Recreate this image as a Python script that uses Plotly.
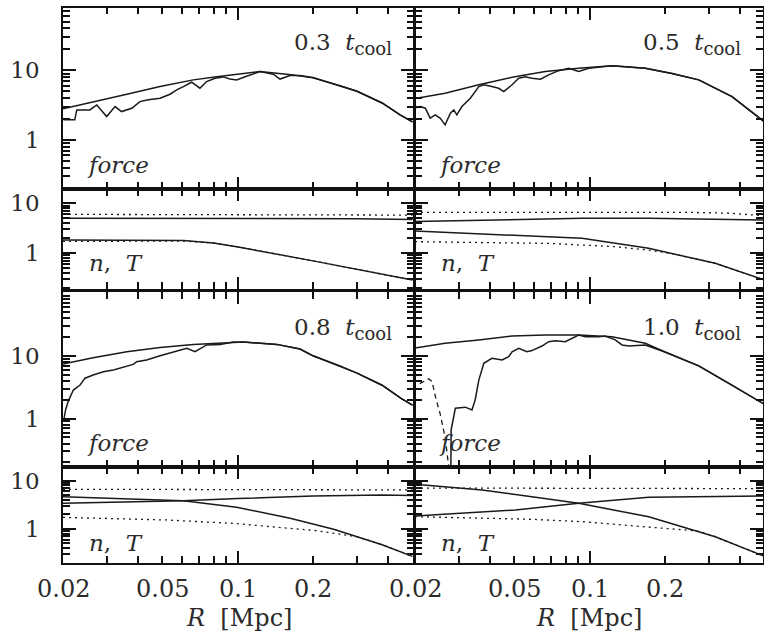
import numpy as np
import plotly.graph_objects as go

# ---------------- data ----------------
# Panel 1: 0.3 t_cool
R1s = [0.02, 0.0264, 0.036, 0.0489, 0.0664, 0.0824, 0.1227, 0.1668, 0.2, 0.2564, 0.3, 0.378, 0.446, 0.5]
F1s = [2.8, 3.56, 4.54, 5.85, 7.3, 8.1, 9.6, 8.6, 7.8, 6.0, 5.0, 3.4, 2.3, 1.82]
R1j = [0.0201, 0.0223, 0.0227, 0.0256, 0.0273, 0.0299, 0.0323, 0.0343, 0.0377, 0.0406, 0.0439, 0.0489,
       0.0536, 0.057, 0.0606, 0.0654, 0.0706, 0.0751, 0.0811, 0.0875, 0.0931, 0.099, 0.107, 0.1227,
       0.1388, 0.1476, 0.1618, 0.1775, 0.2, 0.2564, 0.3, 0.378, 0.446, 0.5]
F1j = [1.95, 1.95, 2.7, 2.7, 3.19, 2.17, 3.02, 2.56, 2.86, 3.56, 3.77, 3.98, 4.54, 5.24, 5.85, 6.75,
       5.54, 6.9, 7.7, 8.05, 7.5, 7.3, 8.1, 9.6, 8.8, 7.5, 8.4, 8.4, 7.9, 6.0, 5.0, 3.4, 2.3, 1.82]
R1n = [0.02, 0.04, 0.0606, 0.08, 0.099, 0.2, 0.3, 0.378, 0.5]
N1 = [1.84, 1.83, 1.80, 1.6, 1.35, 0.70, 0.47, 0.38, 0.29]
R1T = [0.02, 0.1, 0.2, 0.3, 0.5]
T1 = [5.0, 5.0, 4.95, 4.9, 4.75]
R1tu = [0.02, 0.3, 0.5]
T1u = [6.0, 6.0, 5.8]
R1nd = [0.02, 0.04, 0.0606, 0.08, 0.099, 0.2, 0.3, 0.378, 0.5]
N1d = [1.72, 1.74, 1.75, 1.6, 1.35, 0.70, 0.47, 0.38, 0.29]

# Panel 2: 0.5 t_cool
R2s = [0.02, 0.0264, 0.036, 0.0489, 0.0664, 0.0903, 0.1227, 0.1668, 0.2133, 0.2729, 0.3708, 0.498]
F2s = [3.95, 4.7, 6.2, 7.96, 9.6, 10.7, 11.6, 10.7, 9.0, 7.3, 4.2, 1.84]
R2j = [0.0201, 0.0210, 0.022, 0.023, 0.0241, 0.0252, 0.0264, 0.0277, 0.0286, 0.0294, 0.0308, 0.0333,
       0.036, 0.0377, 0.0406, 0.0432, 0.0453, 0.0489, 0.052, 0.0552, 0.0587, 0.0635, 0.0685, 0.0751,
       0.0824, 0.0903, 0.099, 0.112, 0.1227, 0.1668, 0.2133, 0.2729, 0.3708, 0.498]
F2j = [2.9, 3.02, 2.86, 2.06, 2.3, 2.06, 1.65, 2.43, 2.7, 2.3, 3.02, 3.98, 5.85, 6.2, 5.85, 5.53,
       4.95, 6.2, 7.7, 8.1, 7.7, 7.46, 8.6, 9.9, 10.7, 9.6, 10.7, 11.3, 11.6, 10.7, 9.0, 7.3, 4.2, 1.84]
R2n = [0.02, 0.0504, 0.0931, 0.1721, 0.2133, 0.3178, 0.5]
N2 = [2.78, 2.31, 1.99, 1.25, 0.98, 0.625, 0.29]
R2T = [0.02, 0.0504, 0.0931, 0.1721, 0.3178, 0.5]
T2 = [4.3, 4.7, 5.0, 5.0, 4.8, 4.6]
R2tu = [0.02, 0.25, 0.37, 0.5]
T2u = [6.6, 6.6, 6.3, 5.6]
R2nd = [0.02, 0.0685, 0.1265, 0.1721, 0.2133, 0.3178, 0.5]
N2d = [1.7, 1.57, 1.35, 1.15, 0.98, 0.625, 0.29]

# Panel 3: 0.8 t_cool
R3s = [0.02, 0.0264, 0.036, 0.0489, 0.0664, 0.0903, 0.1052, 0.1432, 0.1775, 0.2, 0.2564, 0.3, 0.378, 0.45, 0.5]
F3s = [7.4, 9.3, 11.6, 13.5, 15.2, 16.4, 16.6, 15.2, 12.8, 10.0, 6.9, 5.3, 3.4, 2.1, 1.64]
R3j = [0.0201, 0.0205, 0.021, 0.022, 0.0234, 0.0245, 0.0264, 0.029, 0.0318, 0.036, 0.0382, 0.0394,
       0.0432, 0.0489, 0.0552, 0.0625, 0.0675, 0.0751, 0.0849, 0.096, 0.1086, 0.1432, 0.1775, 0.2,
       0.2564, 0.3, 0.378, 0.45, 0.5]
F3j = [0.9, 1.4, 1.9, 2.85, 3.43, 4.4, 4.94, 5.58, 5.93, 6.7, 7.3, 8.05, 8.6, 10.0, 11.6, 13.2, 11.6,
       14.9, 15.2, 16.6, 16.4, 15.2, 12.8, 10.0, 6.9, 5.3, 3.4, 2.1, 1.64]
R3n = [0.02, 0.0606, 0.099, 0.162, 0.242, 0.378, 0.5]
N3 = [4.6, 3.84, 2.8, 1.66, 0.98, 0.47, 0.27]
R3T = [0.02, 0.0606, 0.1, 0.2, 0.378, 0.5]
T3 = [3.38, 3.84, 4.25, 4.79, 5.0, 4.9]
R3tu = [0.02, 0.5]
T3u = [6.6, 6.4]
R3nd = [0.02, 0.052, 0.096, 0.206, 0.3, 0.378, 0.5]
N3d = [1.73, 1.53, 1.30, 0.92, 0.69, 0.47, 0.27]

# Panel 4: 1.0 t_cool
R4s = [0.02, 0.0264, 0.036, 0.0489, 0.0664, 0.0903, 0.1227, 0.1668, 0.2, 0.2729, 0.3708, 0.498]
F4s = [13.3, 15.8, 17.9, 20.7, 21.4, 21.4, 20.1, 15.8, 11.5, 6.9, 3.4, 1.7]
R4j = [0.0278, 0.0279, 0.029, 0.0318, 0.0338, 0.0348, 0.036, 0.0377, 0.0406, 0.0446, 0.0474, 0.0489,
       0.052, 0.0561, 0.0587, 0.0644, 0.0685, 0.0728, 0.0798, 0.0849, 0.0903, 0.096, 0.1086, 0.1154,
       0.1265, 0.1346, 0.1432, 0.1668, 0.2, 0.2729, 0.3708, 0.498]
F4j = [0.1, 0.66, 1.46, 1.52, 1.37, 1.98, 4.1, 7.6, 9.1, 8.6, 9.7, 11.6, 13.2, 11.6, 12.1, 14.3, 16.8,
       17.4, 16.8, 19.0, 21.4, 20.1, 20.1, 20.7, 17.9, 14.9, 14.3, 14.9, 11.5, 6.9, 3.4, 1.7]
R4d = [0.0209, 0.0227, 0.0234, 0.0243, 0.0252, 0.0264, 0.0274]
F4d = [3.6, 4.3, 3.9, 2.0, 1.2, 0.5, 0.15]
R4n = [0.02, 0.0371, 0.0587, 0.0903, 0.1721, 0.3178, 0.5]
N4 = [8.4, 6.4, 4.6, 3.38, 1.79, 0.69, 0.27]
R4T = [0.02, 0.0504, 0.0903, 0.1721, 0.5]
T4 = [1.85, 2.46, 3.38, 4.5, 4.8]
R4tu = [0.02, 0.5]
T4u = [7.0, 6.8]
R4nd = [0.02, 0.0587, 0.0931, 0.1721, 0.2729, 0.3178, 0.5]
N4d = [1.79, 1.58, 1.41, 1.11, 0.9, 0.69, 0.27]

PANEL_LABELS = ["0.3", "0.5", "0.8", "1.0"]
XTICK_VALS = [0.02, 0.05, 0.1, 0.2]
XTICK_TEXT = ["0.02", "0.05", "0.1", "0.2"]
XMAJOR = [0.1]
XMINOR = [0.03, 0.04, 0.05, 0.06, 0.07, 0.08, 0.09, 0.2, 0.3, 0.4]
YTICK_VALS = [1, 10]
YTICK_TEXT = ["1", "10"]
YMINOR = [0.2, 0.3, 0.4, 0.5, 0.6, 0.7, 0.8, 0.9, 2, 3, 4, 5, 6, 7, 8, 9, 20, 30, 40, 50, 60, 70, 80, 90]

# ---------------- layout geometry ----------------
W, H = 764, 642
FONT = "DejaVu Serif"
INK = "#111111"
TXT = "#2b2b2b"


def ypap(px):
    return 1 - px / H


COLS = {"L": (63, 414), "R": (415, 763)}
ROWS = {"f1": (7.5, 189), "n1": (189, 289), "f2": (292, 467), "n2": (467, 563)}
YRANGE = {"f1": [-0.703, 1.902], "n1": [-0.719, 1.287], "f2": [-0.771, 2.016], "n2": [-0.705, 1.280]}

# subplot index -> (column, row)
SUBS = {1: ("L", "f1"), 2: ("L", "n1"), 3: ("R", "f1"), 4: ("R", "n1"),
        5: ("L", "f2"), 6: ("L", "n2"), 7: ("R", "f2"), 8: ("R", "n2")}

fig = go.Figure()

solid = dict(color="#1a1a1a", width=1.5)
dotted = dict(color="#1a1a1a", width=1.3, dash="2px,4px")
dashed = dict(color="#1a1a1a", width=1.3, dash="5px,4px")


def add(i, x, y, line):
    fig.add_trace(go.Scatter(x=x, y=y, mode="lines", line=line, showlegend=False,
                             hoverinfo="skip", xaxis="x%d" % i, yaxis="y%d" % i))


# force panels
add(1, R1s, F1s, solid); add(1, R1j, F1j, solid)
add(3, R2s, F2s, solid); add(3, R2j, F2j, solid)
add(5, R3s, F3s, solid); add(5, R3j, F3j, solid)
add(7, R4s, F4s, solid); add(7, R4j, F4j, solid); add(7, R4d, F4d, dashed)
# n, T panels
for i, (rn, n, rt, t, rtu, tu, rnd, nd) in zip(
        [2, 4, 6, 8],
        [(R1n, N1, R1T, T1, R1tu, T1u, R1nd, N1d),
         (R2n, N2, R2T, T2, R2tu, T2u, R2nd, N2d),
         (R3n, N3, R3T, T3, R3tu, T3u, R3nd, N3d),
         (R4n, N4, R4T, T4, R4tu, T4u, R4nd, N4d)]):
    add(i, rtu, tu, dotted)
    add(i, rnd, nd, dotted)
    add(i, rt, t, solid)
    add(i, rn, n, solid)

# empty traces that register the overlay axes (long major ticks)
for i in SUBS:
    j = i + 8
    fig.add_trace(go.Scatter(x=[], y=[], mode="lines", showlegend=False, hoverinfo="skip",
                             xaxis="x%d" % j, yaxis="y%d" % i))
    fig.add_trace(go.Scatter(x=[], y=[], mode="lines", showlegend=False, hoverinfo="skip",
                             xaxis="x%d" % i, yaxis="y%d" % j))

layout = dict(width=W, height=H, margin=dict(l=0, r=0, t=0, b=0, pad=0),
              paper_bgcolor="white", plot_bgcolor="rgba(0,0,0,0)", showlegend=False,
              font=dict(family=FONT, size=23, color=TXT))

yvals_all = YTICK_VALS + YMINOR
ytext_all = YTICK_TEXT + [""] * len(YMINOR)

for i, (c, r) in SUBS.items():
    x0, x1 = COLS[c]
    y0, y1 = ROWS[r]
    xr0 = float(np.log10(0.02))
    xdom = [x0 / W, x1 / W]
    ydom = [ypap(y1), ypap(y0)]
    xrng = [xr0, xr0 + (x1 - x0) / 250.0]
    common = dict(showgrid=False, zeroline=False, ticks="inside", mirror="ticks",
                  tickcolor=INK, tickwidth=1.5, automargin=False)
    # main axes: frame + short ticks (+ y labels on the left column)
    layout["xaxis%d" % i] = dict(type="log", domain=xdom, range=xrng, anchor="y%d" % i,
                                 showline=True, linecolor=INK, linewidth=1.5,
                                 tickmode="array", tickvals=XMINOR,
                                 ticktext=[""] * len(XMINOR), ticklen=7,
                                 showticklabels=False, **common)
    layout["yaxis%d" % i] = dict(type="log", domain=ydom, range=YRANGE[r], anchor="x%d" % i,
                                 showline=True, linecolor=INK, linewidth=1.5,
                                 tickmode="array", tickvals=yvals_all, ticktext=ytext_all,
                                 ticklen=7, showticklabels=(c == "L"), ticklabelstandoff=17,
                                 tickfont=dict(family=FONT, size=23, color=TXT), **common)
    # overlay axes: long major ticks
    j = i + 8
    layout["xaxis%d" % j] = dict(type="log", domain=xdom, range=xrng, anchor="y%d" % i,
                                 overlaying="x%d" % i, showline=False,
                                 tickmode="array", tickvals=XMAJOR, ticktext=[""], ticklen=12,
                                 showticklabels=False, **common)
    layout["yaxis%d" % j] = dict(type="log", domain=ydom, range=YRANGE[r], anchor="x%d" % i,
                                 overlaying="y%d" % i, showline=False,
                                 tickmode="array", tickvals=YTICK_VALS, ticktext=["", ""],
                                 ticklen=13, showticklabels=False, **common)

ann = []
# x tick labels under bottom panels
for i in (6, 8):
    for v, t in zip(XTICK_VALS, XTICK_TEXT):
        ann.append(dict(x=float(np.log10(v)), xref="x%d" % i, y=ypap(588.5), yref="paper",
                        text=t, showarrow=False, xanchor="center", yanchor="middle",
                        font=dict(family=FONT, size=24, color=TXT)))
# axis titles
for c in ("L", "R"):
    x0, x1 = COLS[c]
    ann.append(dict(x=(x0 + x1) / 2 / W, xref="paper", y=ypap(618), yref="paper",
                    text="<i>R</i>  [Mpc]", showarrow=False, xanchor="center", yanchor="middle",
                    font=dict(family=FONT, size=24, color=TXT)))
# panel labels
for lab, (c, rf, rn) in zip(PANEL_LABELS, [("L", "f1", "n1"), ("R", "f1", "n1"),
                                            ("L", "f2", "n2"), ("R", "f2", "n2")]):
    x0, x1 = COLS[c]
    fy0 = ROWS[rf][0]
    ann.append(dict(x=(x1 - 20) / W, xref="paper", y=ypap(fy0 + 37), yref="paper",
                    text="%s  <i>t</i><sub><span style='font-size:18px'>cool</span></sub>" % lab,
                    showarrow=False, xanchor="right", yanchor="middle",
                    font=dict(family=FONT, size=23, color=TXT)))
    ann.append(dict(x=(x0 + 22) / W, xref="paper", y=ypap(ROWS[rf][1] - 24), yref="paper",
                    text="<i>force</i>", showarrow=False, xanchor="left", yanchor="middle",
                    font=dict(family=FONT, size=23, color=TXT)))
    ann.append(dict(x=(x0 + 24) / W, xref="paper", y=ypap(ROWS[rn][1] - (26 if rn == "n1" else 20)),
                    yref="paper", text="<i>n</i>,  <i>T</i>", showarrow=False,
                    xanchor="left", yanchor="middle",
                    font=dict(family=FONT, size=23, color=TXT)))
layout["annotations"] = ann

fig.update_layout(**layout)
fig.write_html("out.html", config={"displayModeBar": False},
               post_script="document.body.style.margin='0px';"
                           "document.documentElement.style.overflow='hidden';"
                           "document.body.style.overflow='hidden';")
